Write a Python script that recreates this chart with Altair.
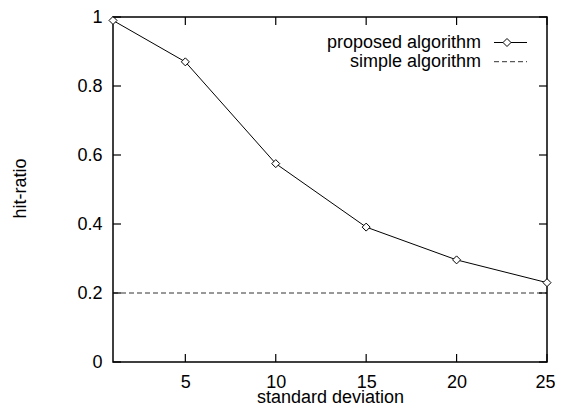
import altair as alt
import pandas as pd

# data
std_dev = [1, 5, 10, 15, 20, 25]
proposed = [0.99, 0.87, 0.575, 0.391, 0.296, 0.23]
simple = [0.2, 0.2, 0.2, 0.2, 0.2, 0.2]
x_ticks = [5, 10, 15, 20, 25]
y_ticks = [0, 0.2, 0.4, 0.6, 0.8, 1.0]
legend_labels = ["proposed algorithm", "simple algorithm"]

W, H = 434, 345
FONT = "Liberation Sans"
FS = 18
TL = 8  # inward tick length

df = pd.DataFrame({"sd": std_dev, "proposed": proposed, "simple": simple})
xt = pd.DataFrame({"xt": x_ticks})
yt = pd.DataFrame({"yt": y_ticks})
leg1 = pd.DataFrame({"label": [legend_labels[0]]})
leg2 = pd.DataFrame({"label": [legend_labels[1]]})

xscale = alt.Scale(domain=[1, 25], nice=False, zero=False)
yscale = alt.Scale(domain=[0, 1], nice=False)

x_axis = alt.Axis(values=x_ticks, title="standard deviation", grid=False, domain=False,
                  ticks=False, labelPadding=11, labelFontSize=FS, titleFontSize=FS,
                  labelFont=FONT, titleFont=FONT, titleFontWeight="normal",
                  labelColor="black", titleColor="black", titleY=40,
                  titleBaseline="alphabetic", labelFlush=False,
                  labelOffset={"expr": "datum.value === 25 ? -2 : 0"})
y_axis = alt.Axis(values=y_ticks, format="~g", title="hit-ratio", grid=False, domain=False,
                  ticks=False, labelPadding=11, labelFontSize=FS, titleFontSize=FS,
                  labelFont=FONT, titleFont=FONT, titleFontWeight="normal",
                  labelColor="black", titleColor="black", titleX=-93, titleY=171,
                  titleBaseline="middle", labelFlush=False)

X = lambda f: alt.X(f, type="quantitative", scale=xscale, axis=x_axis)
Y = lambda f: alt.Y(f, type="quantitative", scale=yscale, axis=y_axis)

simple_line = alt.Chart(df).mark_line(color="#333", strokeWidth=1, strokeDash=[5, 3]).encode(
    x=X("sd"), y=Y("simple"))

prop_line = alt.Chart(df).mark_line(color="black", strokeWidth=1).encode(
    x=X("sd"), y=Y("proposed"))
prop_pts = alt.Chart(df).mark_point(shape="diamond", size=64, filled=True, fill="white",
                                    stroke="black", strokeWidth=1, opacity=1).encode(
    x=X("sd"), y=Y("proposed"))

# inward ticks (gnuplot style, mirrored)
tick_style = dict(color="black", strokeWidth=1.2)
xb = alt.Chart(xt).mark_rule(**tick_style).encode(
    x=X("xt"), y=alt.value(H), y2=alt.value(H - TL))
xtop = alt.Chart(xt).mark_rule(**tick_style).encode(
    x=X("xt"), y=alt.value(0), y2=alt.value(TL))
yl = alt.Chart(yt).mark_rule(**tick_style).encode(
    y=Y("yt"), x=alt.value(0), x2=alt.value(TL))
yr = alt.Chart(yt).mark_rule(**tick_style).encode(
    y=Y("yt"), x=alt.value(W), x2=alt.value(W - TL))

# legend (gnuplot style: label left of sample)
ROW1, ROW2 = 25.5, 44.7
LX_TEXT, LX0, LX1, LXP = 368, 381, 414, 394
leg_t1 = alt.Chart(leg1).mark_text(align="right", baseline="middle", font=FONT, fontSize=FS,
                                   color="black").encode(
    x=alt.value(LX_TEXT), y=alt.value(ROW1), text="label:N")
leg_t2 = alt.Chart(leg2).mark_text(align="right", baseline="middle", font=FONT, fontSize=FS,
                                   color="black").encode(
    x=alt.value(LX_TEXT), y=alt.value(ROW2), text="label:N")
leg_l1 = alt.Chart(leg1).mark_rule(color="black", strokeWidth=1).encode(
    x=alt.value(LX0), x2=alt.value(LX1), y=alt.value(ROW1))
leg_p1 = alt.Chart(leg1).mark_point(shape="diamond", size=64, filled=True, fill="white",
                                    stroke="black", strokeWidth=1, opacity=1).encode(
    x=alt.value(LXP), y=alt.value(ROW1))
leg_l2 = alt.Chart(leg2).mark_rule(color="#333", strokeWidth=1, strokeDash=[5, 3]).encode(
    x=alt.value(LX0), x2=alt.value(LX1), y=alt.value(ROW2))

chart = alt.layer(
    simple_line, prop_line, prop_pts, xb, xtop, yl, yr,
    leg_t1, leg_t2, leg_l1, leg_p1, leg_l2,
).properties(
    width=W, height=H,
    background="white",
    autosize=alt.AutoSizeParams(type="none"),
    padding={"left": 105, "top": 9, "right": 8, "bottom": 44},
).configure_view(
    stroke="black", strokeWidth=1.5
)

chart.save("out.html", embed_options={"renderer": "svg", "actions": False})
